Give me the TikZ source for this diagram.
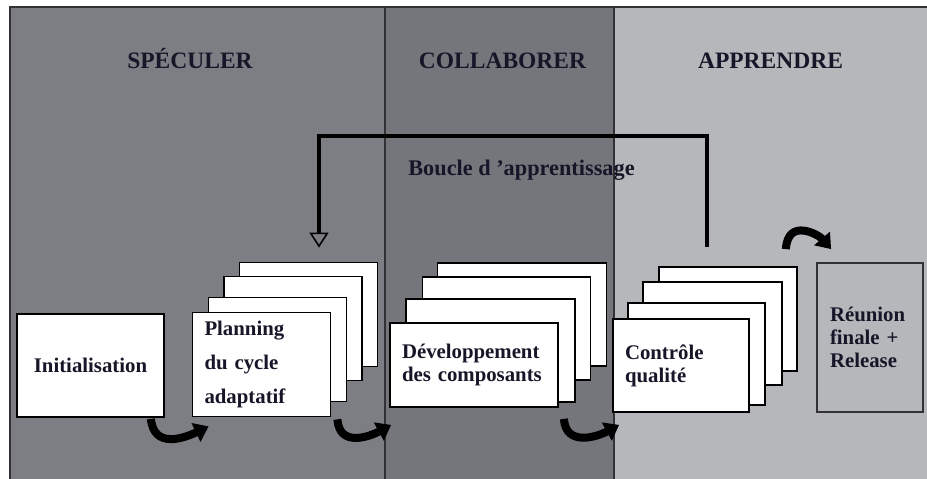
\documentclass[tikz,border=0pt]{standalone}
\usepackage{fontspec}
\setmainfont{Liberation Serif}
\usetikzlibrary{arrows.meta, positioning}
\definecolor{specul}{RGB}{125,126,131}
\definecolor{collab}{RGB}{117,118,123}
\definecolor{appren}{RGB}{182,183,187}
\definecolor{ink}{RGB}{22,22,40}
\definecolor{rule}{RGB}{50,50,54}

\begin{document}
\begin{tikzpicture}[
      x=1pt, y=-1pt, on grid,
      phase/.style={font=\fontsize{23.5}{26}\bfseries, text=ink, anchor=base},
      sheet/.style={draw=black, line width=1.8pt, fill=white, inner sep=0pt},
      card/.style={sheet, inner xsep=12pt, align=left, text=ink,
                   font=\fontsize{20.8}{23}\bfseries},
      turn/.style={line width=8pt, -{Triangle[length=14pt, width=20pt]}},
      feedback/.style={line width=4pt,
                   -{Triangle[open, length=15pt, width=19pt, line width=1.6pt]}},
      ]
      \useasboundingbox (0,0) rectangle (927,479);

      \fill[specul] (10,7) rectangle (385,479);
      \fill[collab] (385,7) rectangle (614,479);
      \fill[appren] (614,7) rectangle (927,479);
      \draw[rule, line width=1.5pt] (927,7) -- (10,7) -- (10,479);
      \draw[rule, line width=1.5pt] (385,7) -- (385,479) (614,7) -- (614,479);

      \node[phase] (speculer)  at (190,68.3)   {SPÉCULER};
      \node[phase] (collabor)  at (502.5,68.3) {COLLABORER};
      \node[phase] (apprendre) at (770.5,68.3) {APPRENDRE};

      \node[card, align=center, minimum height=103pt, text width=123pt]
            (init) at (90.5,365.5) {Initialisation};

      \node[sheet, minimum width=138pt, minimum height=104pt] (plan_4) at (308.5,314.5) {};
      \node[sheet, minimum width=138pt, minimum height=104pt] (plan_3) [below left=14pt and 15.5pt of plan_4] {};
      \node[sheet, minimum width=138pt, minimum height=104pt] (plan_2) [below left=21pt and 15.5pt of plan_3] {};
      \node[card, font=\fontsize{20.8}{34}\bfseries, minimum height=104pt, text width=114pt]
            (plan_1) [below left=15pt and 16pt of plan_2] {Planning\\du cycle\\adaptatif};

      \node[sheet, minimum width=169pt, minimum height=103pt] (dev_4) at (522,314.5) {};
      \node[sheet, minimum width=168pt, minimum height=103pt] (dev_3) [below left=14pt and 15.5pt of dev_4] {};
      \node[sheet, minimum width=169pt, minimum height=103pt] (dev_2) [below left=22pt and 16pt of dev_3] {};
      \node[card, minimum height=84pt, text width=144pt]
            (dev_1) [below left=14.5pt and 16.5pt of dev_2] {Développement\\des composants};

      \node[sheet, minimum width=138pt, minimum height=104pt] (ctl_4) at (728,319) {};
      \node[sheet, minimum width=139pt, minimum height=103pt] (ctl_3) [below left=14.5pt and 15.5pt of ctl_4] {};
      \node[sheet, minimum width=137pt, minimum height=102pt] (ctl_2) [below left=20.5pt and 16pt of ctl_3] {};
      \node[card, minimum height=93pt, text width=112pt]
            (ctl_1) [below left=11.5pt and 15.5pt of ctl_2] {Contrôle\\qualité};

      \node[card, draw=rule, fill=appren, inner xsep=13pt, minimum height=149pt, text width=80pt]
            (reunion) at (870,337.5) {Réunion\\finale +\\Release};

      \node[font=\fontsize{22.3}{25}\bfseries, text=ink, anchor=base]
            (boucle) at (521.5,175) {Boucle d ’apprentissage};

      \coordinate (loop_out) at ([shift={(-21pt,19pt)}]ctl_4.north);
      \coordinate (loop_in)  at ([shift={(10.5pt,14pt)}]plan_4.north);
      \draw[feedback] (loop_out) -- ++(0,-111) -| (loop_in);

      \draw[turn] ([shift={(-14pt,-1pt)}]init.south east)
            .. controls +(3,30) and +(-25,12) .. ([shift={(17pt,-9pt)}]plan_1.south west);
      \draw[turn] ([shift={(6pt,-2pt)}]plan_1.south east)
            .. controls +(2,28) and +(-22,12) .. ([shift={(2pt,-17pt)}]dev_1.south west);
      \draw[turn] ([shift={(5pt,-11pt)}]dev_1.south east)
            .. controls +(2,28) and +(-22,12) .. ([shift={(7pt,-12pt)}]ctl_1.south west);
      \draw[turn] ([shift={(-12pt,17pt)}]ctl_4.north east)
            .. controls +(2,-32) and +(-12,-14) .. ([shift={(15pt,13pt)}]reunion.north west);
    \end{tikzpicture}
\end{document}
